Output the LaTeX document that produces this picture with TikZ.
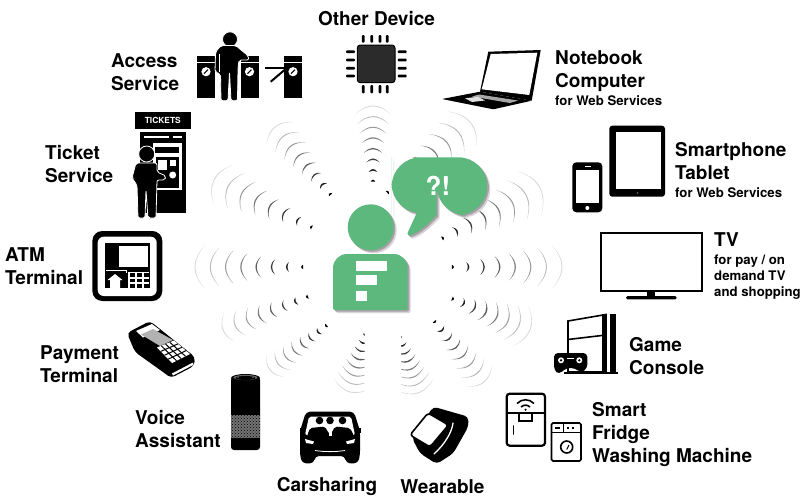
\documentclass[tikz,border=0pt]{standalone}
\usepackage{fontspec}
\setmainfont{TeX Gyre Heros}
\usetikzlibrary{patterns}
\definecolor{fgreen}{HTML}{5CB87C}
\definecolor{fshadow}{HTML}{A9A0A8}
\definecolor{fshadowlt}{HTML}{D8D4D8}
\definecolor{chipgray}{HTML}{2B2B2B}
\newcommand{\wburst}[5]{%
  \pgfmathsetmacro\dlen{veclen(#3-#1,#4-#2)}%
  \pgfmathsetmacro\ux{(#3-#1)/\dlen}%
  \pgfmathsetmacro\uy{(#4-#2)/\dlen}%
  \foreach \kk in {0,...,7}{%
    \pgfmathsetmacro\ax{#1+\kk/7*(#3-#1)}%
    \pgfmathsetmacro\ay{#2+\kk/7*(#4-#2)}%
    \pgfmathsetmacro\wk{2.2+\kk/7*(#5-2.2)}%
    \pgfmathsetmacro\sg{0.47*\wk}%
    \pgfmathsetmacro\tk{1.7-0.12*\kk}%
    \pgfmathtruncatemacro\shd{100-12*\kk}%
    \pgfmathsetmacro\ex{\ax-\sg*\ux}%
    \pgfmathsetmacro\ey{\ay-\sg*\uy}%
    \pgfmathsetmacro\pax{\ex-\wk*\uy}%
    \pgfmathsetmacro\pay{\ey+\wk*\ux}%
    \pgfmathsetmacro\pbx{\ex+\wk*\uy}%
    \pgfmathsetmacro\pby{\ey-\wk*\ux}%
    \pgfmathsetmacro\qox{\ex+(2*\sg+\tk)*\ux}%
    \pgfmathsetmacro\qoy{\ey+(2*\sg+\tk)*\uy}%
    \pgfmathsetmacro\qix{\ex+(2*\sg-\tk)*\ux}%
    \pgfmathsetmacro\qiy{\ey+(2*\sg-\tk)*\uy}%
    \fill[black!\shd] (\pax,\pay)
       .. controls ({\pax/3+2*\qox/3},{\pay/3+2*\qoy/3}) and ({\pbx/3+2*\qox/3},{\pby/3+2*\qoy/3}) .. (\pbx,\pby)
       .. controls ({\pbx/3+2*\qix/3},{\pby/3+2*\qiy/3}) and ({\pax/3+2*\qix/3},{\pay/3+2*\qiy/3}) .. cycle;
  }%
}
\newcommand{\bubblepath}{(391.7,186) [rounded corners=29pt] -- (391.7,157.3) -- (487.3,157.3) -- (487.3,215) -- (436.7,215) [rounded corners=0pt] -- (436.7,215) .. controls (428,224) and (420,232) .. (410,235.5) [rounded corners=1.5pt] -- (407,235) -- (408,232) [rounded corners=0pt] -- (416.7,213) [rounded corners=29pt] -- (391.7,213) -- cycle}
\newcommand{\headbody}{(333,310) [rounded corners=14pt] -- (333,254) -- (407.7,254) [rounded corners=2pt] -- (407.7,310) -- cycle}
\tikzset{
  lbl/.style={font=\bfseries\fontsize{19}{23}\selectfont,align=left,inner sep=0pt,anchor=north west,text=black},
  bk/.style={fill=black,draw=none},
  wh/.style={fill=white,draw=none},
  person/.style={fill=black,draw=white,line width=0.8pt,line join=round}
}
\newcommand{\smtxt}{\fontsize{13.2}{16}\selectfont}
\begin{document}
\begin{tikzpicture}[x=1pt,y=-1pt]
\useasboundingbox (0,0) rectangle (800,498);
\fill[white] (0,0) rectangle (800,498);
% ---- waves
\wburst{373}{180.5}{373}{106}{18}
\wburst{330}{194}{275}{127}{18}
\wburst{311}{227}{214}{180}{22}
\wburst{302}{267}{195}{267}{22}
\wburst{307}{297}{223}{330}{15}
\wburst{326}{326}{270}{370}{14}
\begin{scope}
\clip (300,320) rectangle (364.5,400);
\wburst{365}{335}{350}{392}{19}
\end{scope}
\begin{scope}
\clip (401,320) rectangle (460,400);
\wburst{400}{338}{418}{393}{19}
\end{scope}
\wburst{435}{322}{484}{382}{17}
\wburst{453}{299}{530}{330}{21}
\wburst{453}{267}{562}{267}{22}
\wburst{443}{238}{540}{188}{25}
\wburst{388}{192}{470}{122}{23}
% ---- central figure shadow
\begin{scope}[shift={(3pt,-3pt)}]
\fill[fshadowlt] (370.7,227.3) circle[radius=23pt];
\fill[fshadowlt,rounded corners=2pt] \headbody;
\fill[fshadowlt] \bubblepath;
\end{scope}
\begin{scope}[shift={(1.6pt,-1.6pt)}]
\fill[fshadow] (370.7,227.3) circle[radius=23pt];
\fill[fshadow,rounded corners=2pt] \headbody;
\fill[fshadow] \bubblepath;
\end{scope}
% ---- central figure
\fill[fgreen] (370.7,227.3) circle[radius=23pt];
\fill[fgreen,rounded corners=2pt] \headbody;
\fill[white] (356,260.7) rectangle (386.7,270.7);
\fill[white] (356,275.3) rectangle (376.7,285.3);
\fill[white] (356,290.7) rectangle (366.7,300.7);
\fill[fgreen] \bubblepath;
\node[font=\bfseries\fontsize{26}{26}\selectfont,text=white,inner sep=0pt] (talk) at (438,186) {?!};
% ---- Access service
\fill[bk] (197.3,55.7) rectangle (215,98.3);
\fill[bk] (240.7,55.7) rectangle (258.7,98.3);
\fill[bk] (284.3,55.7) rectangle (301.7,98.3);
\foreach \gx in {197.3,240.7,284.3}{\fill[white] (\gx,61.6) rectangle ++(18,1.2);}
\foreach \gx in {206,249.5,293}{\fill[white] (\gx,71.7) circle[radius=4.6pt];
  \draw[black,line width=1.1pt] (\gx-2,73.7) -- (\gx+2,69.7);}
\draw[black,line width=2pt] (265,68.3) -- (284.5,68.3);
\draw[black,line width=2pt] (270.7,81.7) -- (284.5,70);
\fill[person] (230,39.3) circle[radius=7.5pt];
\fill[person,rounded corners=2pt] (215,72) -- (215.5,52) -- (221,45.5) -- (236,45.5) -- (241,50) -- (248,55.5) -- (249,60) -- (239,60) -- (238,68) -- (237.5,100.7) -- (231,100.7) -- (229.5,72) -- (228,100.7) -- (221,100.7) -- (220.5,74) -- cycle;
\draw[white,line width=0.6pt] (219.5,54) -- (219.5,72);
\node[lbl] (access) at (111,53.5) {Access\\Service};
% ---- Ticket service
\fill[bk] (135,111.7) rectangle (190.7,129.3);
\node[font=\bfseries\fontsize{8.4}{9}\selectfont,text=white,inner sep=0pt] (tickets) at (162.8,120.7) {TICKETS};
\fill[bk] (140,131.7) rectangle (186,213.3);
\fill[white] (144,136) rectangle (169,137.6);
\fill[white] (172.7,136) rectangle (181.7,137.6);
\fill[white] (153,143) rectangle (181.7,190);
\fill[bk] (155,146.7) rectangle (179,153);
\fill[bk] (156,157) rectangle (179,188);
\fill[white] (158,160) rectangle (167,170);
\fill[white] (170,160) rectangle (176,166);
\fill[white] (172.7,175) circle[radius=3.5pt];
\fill[person] (146.7,154) circle[radius=8pt];
\fill[person,rounded corners=2pt] (132,178) -- (136,163) -- (157,163) -- (157,172) -- (166,176) -- (165,180) -- (157,180) -- (156,218) -- (148,218) -- (146,190) -- (145,218) -- (138,218) -- (137,185) -- cycle;
\node[lbl] (ticket) at (45,145.5) {Ticket\\Service};
% ---- Other device chip
\fill[chipgray,draw=black,line width=1pt,rounded corners=3pt] (357.3,45) rectangle (395,82.7);
\foreach \px in {363.3,371.7,380,387.3}{
  \fill[black,rounded corners=1pt] (\px-1.4,35) rectangle (\px+1.4,42.7);
  \fill[black,rounded corners=1pt] (\px-1.4,85) rectangle (\px+1.4,93.3);}
\foreach \py in {51.7,60,68.3,76}{
  \fill[black,rounded corners=1pt] (346,\py-1.4) rectangle (355,\py+1.4);
  \fill[black,rounded corners=1pt] (397.7,\py-1.4) rectangle (406.7,\py+1.4);}
\node[lbl,anchor=center] (other) at (376.5,19) {Other Device};
% ---- Notebook
\fill[bk] (488.3,51.7) -- (540.7,50) -- (531.7,100.7) -- (480,91.7) -- cycle;
\fill[white] (490.7,54) -- (537.3,52.7) -- (529.3,95) -- (481.7,89.3) -- cycle;
\fill[bk,rounded corners=1pt] (442,99) -- (480,91.7) -- (531.7,100.7) -- (493.3,109.3) -- cycle;
\fill[black!35] (479,94.5) -- (518,100.5) -- (510,103) -- (472,96.5) -- cycle;
\fill[black!12] (465,98.2) -- (478,96.8) -- (485,100.5) -- (472,102) -- cycle;
\node[lbl] (notebook) at (555,50.5) {Notebook\\Computer\\[-5pt]{\smtxt for Web Services}};
% ---- Phone and tablet
\fill[bk,rounded corners=3pt] (609.3,125.7) rectangle (665,196.7);
\fill[white] (615.7,132.3) rectangle (660.7,189.3);
\fill[black!55] (637.5,193) circle[radius=0.8pt];
\fill[bk,rounded corners=4pt] (572.3,162.3) rectangle (602.3,212.3);
\fill[white] (575.7,170) rectangle (599.3,203.3);
\fill[white] (584.5,165.5) rectangle (590.5,166.7);
\fill[white] (587.3,208) circle[radius=2pt];
\node[lbl] (smart) at (675,142.5) {Smartphone\\Tablet\\[-5pt]{\smtxt for Web Services}};
% ---- TV
\draw[black,line width=2pt,fill=white] (601,233.3) rectangle (702.3,290.7);
\fill[bk] (646.7,291.7) rectangle (655,297.5);
\fill[bk,rounded corners=1.5pt] (626,296) rectangle (676.7,299.3);
\node[lbl] (tv) at (714,232.5) {TV\\[-5pt]\smtxt for pay / on\\[-7pt]\smtxt demand TV\\[-7pt]\smtxt and shopping};
% ---- Game console
\draw[black,line width=1.6pt,fill=white] (568,321) -- (606,314.5) -- (606,372) -- (568,372) -- cycle;
\draw[black,line width=1.6pt] (568,339.5) -- (606,335);
\fill[bk] (601.7,314.3) rectangle (607.3,373.3);
\fill[bk] (610,314.3) rectangle (615.7,373.3);
\fill[bk] (564,371.5) rectangle (617.5,374.3);
\fill[bk,rounded corners=4pt] (554,353) -- (587.3,353) -- (587.5,368) -- (581,373) -- (575,368) -- (566,368) -- (559,374.5) -- (554,370) -- cycle;
\fill[white] (561,360.3) circle[radius=3pt];
\fill[white] (579.3,360.3) circle[radius=3pt];
\fill[bk] (561,360.3) circle[radius=1.3pt];
\fill[bk] (579.3,360.3) circle[radius=1.3pt];
\fill[white] (566.5,358) rectangle (574,359);
\node[lbl] (game) at (629,337) {Game\\Console};
% ---- Fridge and washer
\draw[black,line width=2.2pt,rounded corners=3pt,fill=white] (506.7,393.7) rectangle (545,445.7);
\draw[black,line width=2.2pt] (506.7,412.7) -- (545,412.7);
\draw[black,line width=2pt] (519.3,412.7) -- (519.3,420.7) -- (531.7,420.7) -- (531.7,412.7);
\draw[black,line width=1.8pt,line cap=round] (513.5,426) -- (513.5,434);
\draw[black,line width=1.6pt] (517,403.5) .. controls (522,398.5) and (529,398.5) .. (534,403.5);
\draw[black,line width=1.6pt] (521,407) .. controls (524,404.5) and (527,404.5) .. (530,407);
\fill[bk] (525.5,409.7) circle[radius=1.2pt];
\draw[black,line width=1.6pt,rounded corners=1.5pt,fill=white] (551.5,423) rectangle (581,461);
\draw[black,line width=1.4pt] (551.5,432.7) -- (581,432.7);
\fill[bk] (554.5,427) rectangle (560,428.6);
\draw[black,line width=1pt] (563.5,423.5) -- (563.5,432);
\fill[bk] (567,427) rectangle (569,428.6);
\fill[bk] (572,427) rectangle (574,428.6);
\draw[black,line width=1.6pt] (566.7,447) circle[radius=6pt];
\draw[black,line width=1pt] (566.7,449.5) -- (569,445);
\node[lbl] (fridge) at (592,402.5) {Smart\\Fridge\\Washing Machine};
% ---- Wearable
\fill[bk,rounded corners=4pt] (433.3,406.7) -- (468.3,416.7) -- (468.3,426.7) -- (453.3,453.3) -- (436.7,464) -- (420,453.3) -- (412,438) -- cycle;
\draw[white,line width=1.3pt,line cap=round] (453,423) .. controls (452,432) and (445,444) .. (434,454);
\draw[black,line width=1.6pt,fill=white,rounded corners=3pt,line join=round] (428,413) -- (448.5,425) -- (430,447) -- (410,435) -- cycle;
\node[lbl,anchor=center] (wearable) at (442.5,486.5) {Wearable};
% ---- Carsharing
\fill[bk,rounded corners=4pt] (306,411.7) -- (354,411.7) -- (360,431) -- (360,455) -- (358,463.3) -- (346,463.3) -- (345,456) -- (315,456) -- (314,463.3) -- (302,463.3) -- (300,455) -- (300,431) -- cycle;
\fill[bk] (300,428) rectangle (304,433);
\fill[bk] (356,428) rectangle (361,433);
\fill[white,rounded corners=2pt] (309,416.5) -- (351,416.5) -- (355,435) -- (305,435) -- cycle;
\foreach \hx in {319.5,330,342.5}{\fill[bk] (\hx,420.5) circle[radius=3.8pt];}
\fill[bk,rounded corners=2pt] (307,436) -- (310,428) -- (325,426.5) -- (329,434) -- (331,434) -- (335,426.5) -- (350,428) -- (354,436) -- cycle;
\fill[white] (328.7,432) rectangle (331.5,436);
\fill[white] (305,439) -- (314,441.5) -- (313,444) -- (306,443) -- cycle;
\fill[white] (355,439) -- (346,441.5) -- (347,444) -- (354,443) -- cycle;
\draw[white,line width=0.8pt] (315,450.5) .. controls (325,452) and (335,452) .. (345,450.5);
\node[lbl,anchor=center] (car) at (327,486.5) {Carsharing};
% ---- Voice assistant
\fill[bk,rounded corners=3pt] (231,377) rectangle (260,450);
\fill[bk] (245.5,378) ellipse[x radius=14.5pt,y radius=4pt];
\fill[black!60] (245.5,377.5) ellipse[x radius=12pt,y radius=2.6pt];
\fill[bk] (245.5,378) ellipse[x radius=10pt,y radius=2pt];
\fill[black!55] (231,415) rectangle (260,438);
\fill[pattern=crosshatch dots,pattern color=black] (231,415) rectangle (260,438);
\fill[black!35] (238,377.2) circle[radius=0.7pt];
\fill[black!35] (253,377.2) circle[radius=0.7pt];
\node[lbl] (voice) at (135,410.5) {Voice\\Assistant};
% ---- Payment terminal
\fill[bk,rounded corners=4pt] (127,333) -- (150,321) -- (195,357) -- (194,366) -- (171,378) -- (163,372) -- (135,352) -- cycle;
\fill[white] (136,331) -- (152,324) -- (160,330) -- (143,337.5) -- cycle;
\fill[black!30] (141,334.5) -- (153,329) -- (173,340) -- (160,346) -- cycle;
\fill[white] (157,347.5) -- (174,340.5) -- (190,354) -- (172,363) -- cycle;
\foreach \ln in {0.25,0.5,0.75}{
  \draw[black,line width=1pt] ({157+\ln*15},{347.5+\ln*15.5}) -- ({174+\ln*16},{340.5+\ln*13.5});
  \draw[black,line width=1pt] ({157+\ln*17},{347.5-\ln*7}) -- ({172+\ln*18},{363-\ln*9});}
\fill[white] (172,373.5) -- (193,362.5) -- (193,365) -- (173,375.5) -- cycle;
\node[lbl] (pay) at (40,345) {Payment\\Terminal};
% ---- ATM
\fill[bk,rounded corners=10pt] (92.3,231) rectangle (162.3,301);
\fill[white,rounded corners=6pt] (97.7,236.7) rectangle (156.7,296);
\fill[bk] (105,243.3) rectangle (150,288.3);
\fill[white] (119.3,246) rectangle (147.7,266.7);
\draw[white,line width=0.7pt] (106,270) -- (126,270) -- (126,273);
\fill[white] (115,274) -- (122.5,280) -- (120,280) -- (120,288.3) -- (110,288.3) -- (110,280) -- (107.5,280) -- cycle;
\fill[white] (128,271.5) rectangle (149,288);
\foreach \cy in {273,278.5,284}{\foreach \cx in {129.5,136.5,143.5}{\fill[bk] (\cx,\cy) rectangle ++(5,3.8);}}
\node[lbl] (atm) at (5,247) {ATM\\Terminal};
\end{tikzpicture}
\end{document}
